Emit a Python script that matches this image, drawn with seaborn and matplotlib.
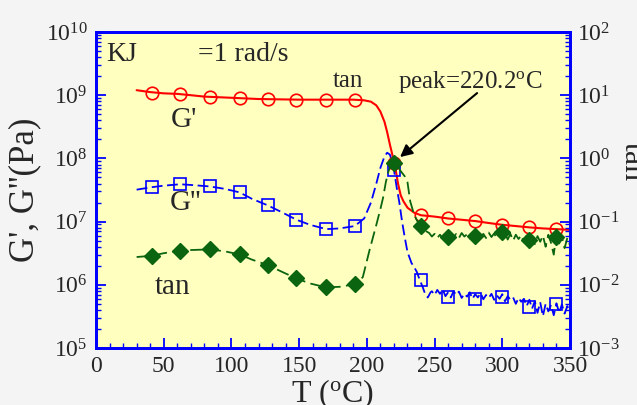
import matplotlib
matplotlib.use("Agg")
import matplotlib.pyplot as plt
import matplotlib.ticker as mticker
import numpy as np
import pandas as pd
import seaborn as sns

# ---- data ----
# G' (storage modulus), continuous trace
gp_T = [30, 40, 50, 60, 70, 80, 90, 100, 110, 120, 135, 150, 170, 190, 198, 203,
        207, 210, 213, 215, 217, 219, 221, 223, 225, 227, 230, 235, 240, 250, 260,
        270, 280, 290, 300, 310, 320, 330, 340, 350]
gp_val = [1.2e9, 1.12e9, 1.07e9, 1.05e9, 1.0e9, 9.5e8, 9.3e8, 9.1e8, 8.9e8, 8.7e8,
          8.6e8, 8.5e8, 8.5e8, 8.5e8, 8.3e8, 7.9e8, 6.9e8, 5.5e8, 3.8e8, 2.6e8,
          1.66e8, 1.1e8, 7.2e7, 4.0e7, 2.6e7, 2.1e7, 1.66e7, 1.38e7, 1.26e7, 1.2e7,
          1.12e7, 1.07e7, 1.02e7, 9.5e6, 8.9e6, 8.5e6, 8.1e6, 7.8e6, 7.6e6, 7.4e6]

# G'' (loss modulus), continuous trace (noisy above 248 C)
gpp_T = [30, 41, 50, 62, 70, 84, 95, 106, 115, 127, 138, 148, 158, 170, 180, 191,
         198, 203, 207, 210, 213, 215, 217, 219, 220, 222, 224, 226, 228, 230, 233,
         235, 237, 239, 241, 243, 245, 247,
         248, 250, 252, 254, 256, 258, 260, 262, 264, 266, 268, 270, 272, 274, 276,
         278, 280, 282, 284, 286, 288, 290, 292, 294, 296, 298, 300, 302, 304, 306,
         308, 310, 312, 314, 316, 318, 320, 322, 324, 326, 328, 330, 332, 334, 336,
         338, 340, 342, 344, 346, 348, 350]
gpp_val = [3.2e7, 3.5e7, 3.7e7, 3.9e7, 3.8e7, 3.6e7, 3.3e7, 2.9e7, 2.3e7, 1.8e7,
           1.38e7, 1.07e7, 8.9e6, 7.6e6, 7.8e6, 8.5e6, 1.12e7, 2.0e7, 4.0e7, 7.1e7,
           1.07e8, 1.23e8, 1.15e8, 8.3e7, 6.6e7, 3.5e7, 2.0e7, 1.0e7, 5.6e6, 3.3e6,
           2.2e6, 1.9e6, 1.58e6, 1.2e6, 9.5e5, 7.2e5, 6.3e5, 7.6e5,
           7.9e5, 6.9e5, 8.3e5, 7.2e5, 8.5e5, 6.6e5, 7.6e5, 6.3e5, 7.9e5, 6.9e5,
           7.8e5, 6.2e5, 7.2e5, 6.5e5, 7.6e5, 6.0e5, 7.1e5, 6.3e5, 7.4e5, 5.9e5,
           6.9e5, 6.2e5, 7.2e5, 5.8e5, 6.8e5, 6.0e5, 7.1e5, 5.5e5, 6.6e5, 5.8e5,
           6.3e5, 5.0e5, 6.2e5, 5.4e5, 6.0e5, 4.6e5, 5.8e5, 4.2e5, 5.5e5, 3.6e5,
           5.3e5, 3.2e5, 5.0e5, 3.8e5, 4.8e5, 3.3e5, 5.1e5, 3.6e5, 4.9e5, 3.5e5,
           4.6e5, 3.8e5]

# tan delta, continuous trace (noisy above 246 C), right axis units
tan_T = [30, 41, 50, 62, 70, 84, 95, 106, 115, 127, 138, 148, 158, 170, 180, 191,
         197, 202, 207, 210, 212, 214, 216, 218, 220, 222, 225, 228, 230, 232, 235,
         238, 240, 243,
         246, 248, 250, 252, 254, 256, 258, 260, 262, 264, 266, 268, 270, 272, 274,
         276, 278, 280, 282, 284, 286, 288, 290, 292, 294, 296, 298, 300, 302, 304,
         306, 308, 310, 312, 314, 316, 318, 320, 322, 324, 326, 328, 330, 332, 334,
         336, 338, 340, 342, 344, 346, 348, 350]
tan_val = [0.0275, 0.0288, 0.0316, 0.0347, 0.0355, 0.0363, 0.0339, 0.0302, 0.0251,
           0.0204, 0.0158, 0.0126, 0.0105, 0.0091, 0.0093, 0.0102, 0.0132, 0.0355,
           0.089, 0.158, 0.24, 0.42, 0.63, 0.79, 0.85, 0.79, 0.63, 0.52, 0.42, 0.21,
           0.126, 0.095, 0.085, 0.072,
           0.066, 0.058, 0.064, 0.055, 0.062, 0.054, 0.063, 0.056, 0.065, 0.057,
           0.064, 0.055, 0.066, 0.058, 0.063, 0.054, 0.065, 0.057, 0.066, 0.056,
           0.064, 0.055, 0.067, 0.057, 0.065, 0.054, 0.068, 0.058, 0.066, 0.052,
           0.064, 0.050, 0.062, 0.053, 0.061, 0.047, 0.060, 0.050, 0.058, 0.044,
           0.059, 0.048, 0.060, 0.040, 0.062, 0.046, 0.030, 0.064, 0.045, 0.058,
           0.038, 0.055, 0.042]

# sparse symbols
mark_T = [41, 62, 84, 106, 127, 148, 170, 191, 220, 240, 260, 280, 300, 320, 340]
gp_mark = [1.10e9, 1.05e9, 9.5e8, 9.1e8, 8.7e8, 8.5e8, 8.5e8, 8.5e8, 8.5e7,
           1.26e7, 1.15e7, 1.02e7, 8.9e6, 8.3e6, 7.6e6]
gpp_mark = [3.5e7, 3.9e7, 3.6e7, 2.9e7, 1.8e7, 1.07e7, 7.6e6, 8.5e6, 6.6e7,
            1.2e6, 6.5e5, 5.9e5, 6.3e5, 4.5e5, 5.0e5]
tan_mark = [0.0288, 0.0347, 0.0363, 0.0302, 0.0204, 0.0126, 0.0091, 0.0102, 0.85,
            0.085, 0.058, 0.060, 0.068, 0.051, 0.058]

x_ticks = [0, 50, 100, 150, 200, 250, 300, 350]

RED = "#ff0000"
BLUE = "#0000ff"
GREEN = "#0a6410"
SERIF = "Liberation Serif"

sns.set_style("ticks")
plt.rcParams["font.family"] = [SERIF, "DejaVu Serif"]
plt.rcParams["mathtext.fontset"] = "custom"
plt.rcParams["mathtext.rm"] = SERIF
plt.rcParams["mathtext.it"] = SERIF + ":italic"
plt.rcParams["mathtext.bf"] = SERIF + ":bold"

gp_df = pd.DataFrame({"T": gp_T, "v": gp_val})
gpp_df = pd.DataFrame({"T": gpp_T, "v": gpp_val})
tan_df = pd.DataFrame({"T": tan_T, "v": tan_val})
mk_df = pd.DataFrame({"T": mark_T, "gp": gp_mark, "gpp": gpp_mark, "tan": tan_mark})

fig = plt.figure(figsize=(6.37, 4.05), dpi=100, facecolor="#f4f4f4")
ax = fig.add_axes([96 / 637, 1 - 348 / 405, 474 / 637, 316 / 405])
ax.set_facecolor("#ffffc0")
ax2 = ax.twinx()

ax.set_yscale("log")
ax2.set_yscale("log")

sns.lineplot(data=gp_df, x="T", y="v", ax=ax, color=RED, lw=1.5,
             estimator=None, sort=False)
sns.lineplot(data=gpp_df, x="T", y="v", ax=ax, color=BLUE, lw=1.3,
             linestyle=(0, (6, 2.5)), estimator=None, sort=False)
sns.lineplot(data=tan_df, x="T", y="v", ax=ax2, color=GREEN, lw=1.3,
             linestyle=(0, (7, 3)), estimator=None, sort=False)

sns.lineplot(data=mk_df, x="T", y="gp", ax=ax, linestyle="none", marker="o",
             markersize=9, markerfacecolor="none", markeredgecolor=RED,
             mew=1.2, estimator=None, sort=False)
sns.lineplot(data=mk_df, x="T", y="gpp", ax=ax, linestyle="none", marker="s",
             markersize=9, markerfacecolor="none", markeredgecolor=BLUE,
             mew=1.2, estimator=None, sort=False)
sns.lineplot(data=mk_df, x="T", y="tan", ax=ax2, linestyle="none", marker="D",
             markersize=8, markerfacecolor=GREEN, markeredgecolor=GREEN,
             mew=1.0, estimator=None, sort=False)

ax.set_xlim(0, 350)
ax.set_ylim(1e5, 1e10)
ax2.set_ylim(1e-3, 1e2)
ax.set_xticks(x_ticks)
ax.xaxis.set_minor_locator(mticker.MultipleLocator(10))
for a in (ax, ax2):
    a.yaxis.set_major_locator(mticker.LogLocator(base=10, numticks=12))
    a.yaxis.set_minor_locator(mticker.LogLocator(base=10, subs=np.arange(2, 10), numticks=12))
    a.yaxis.set_minor_formatter(mticker.NullFormatter())
    a.yaxis.set_major_formatter(mticker.LogFormatterMathtext())

ax.tick_params(axis="both", which="major", direction="in", length=7, width=1.3,
               color=BLUE, labelsize=17, pad=6)
ax.tick_params(axis="both", which="minor", direction="in", length=3.5, width=1.0,
               color=BLUE)
ax.tick_params(axis="y", which="both", left=True, right=False)
ax.tick_params(axis="x", which="both", top=False)
ax2.tick_params(axis="y", which="major", direction="in", length=7, width=1.3,
                color=BLUE, labelsize=17, pad=5)
ax2.tick_params(axis="y", which="minor", direction="in", length=3.5, width=1.0,
                color=BLUE)

for a in (ax, ax2):
    for s in a.spines.values():
        s.set_color(BLUE)
        s.set_linewidth(2.0)

ax.set_xlabel("T ($^{\\rm o}$C)", fontsize=23, labelpad=0)
ax.set_ylabel("G', G''(Pa)", fontsize=25, labelpad=3)
ax2.set_ylabel("")
fig.text(0.992, 0.6, "tan", rotation=270, fontsize=23, ha="center", va="center")

ax.text(0.021, 0.908, "KJ", transform=ax.transAxes, fontsize=20)
ax.text(0.215, 0.908, "=1 rad/s", transform=ax.transAxes, fontsize=20)
ax.text(0.158, 0.699, "G'", transform=ax.transAxes, fontsize=21)
ax.text(0.156, 0.437, "G''", transform=ax.transAxes, fontsize=21)
ax.text(0.124, 0.171, "tan", transform=ax.transAxes, fontsize=21)
ax.text(175, 1.35e9, "tan", fontsize=18)
ax.text(223, 1.3e9, "peak=220.2$^{\\rm o}$C", fontsize=18)
ax.annotate("", xy=(224.5, 1.05e8), xytext=(281.4, 1.08e9),
            arrowprops=dict(arrowstyle="-|>", color="black", lw=1.5,
                            mutation_scale=18, shrinkA=0, shrinkB=0))

fig.savefig("out.png", dpi=100, facecolor=fig.get_facecolor())
